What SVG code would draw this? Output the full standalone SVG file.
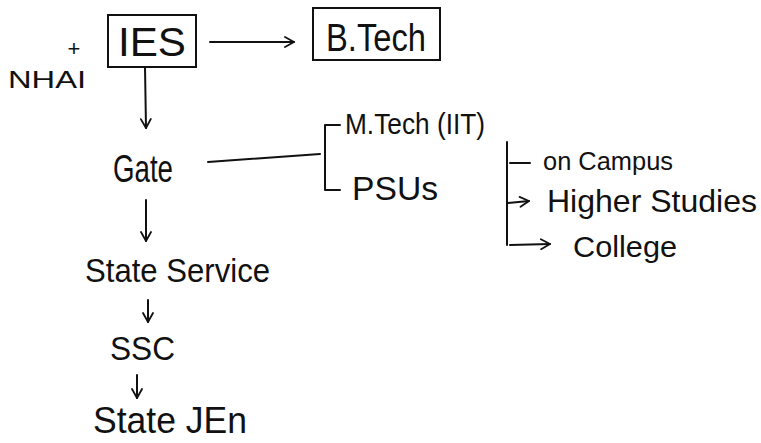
<svg xmlns="http://www.w3.org/2000/svg" width="761" height="443" viewBox="0 0 761 443">
<defs>
<marker id="ah" viewBox="0 0 12 12" refX="11" refY="6" markerWidth="12" markerHeight="12" markerUnits="userSpaceOnUse" orient="auto">
<path d="M2,1 L11,6 L2,11" fill="none" stroke="#111" stroke-width="1.8" stroke-linecap="round" stroke-linejoin="round"/>
</marker>
</defs>
<style>
text{font-family:"Liberation Sans","DejaVu Sans",sans-serif;fill:#111;}
.ln{fill:none;stroke:#111;stroke-width:2;stroke-linecap:round;stroke-linejoin:round;}
.box{fill:none;stroke:#111;stroke-width:2;}
</style>
<rect width="761" height="443" fill="#fff"/>
<g id="connectors">
<path class="ln" d="M210,42 L294,42" marker-end="url(#ah)"/>
<path class="ln" d="M145,67 L146,128" marker-end="url(#ah)"/>
<path class="ln" d="M208,162 L320,154"/>
<path class="ln" d="M340,125 L325,125 L325,190 L340,190"/>
<path class="ln" d="M146,200 L146,241" marker-end="url(#ah)"/>
<path class="ln" d="M148,300 L148,322" marker-end="url(#ah)"/>
<path class="ln" d="M137,375 L137,398" marker-end="url(#ah)"/>
<path class="ln" d="M507,142 L507,245"/>
<path class="ln" d="M510,163 L530,163"/>
<path class="ln" d="M508,203 L529,201" marker-end="url(#ah)"/>
<path class="ln" d="M510,245 L550,244" marker-end="url(#ah)"/>
</g>
<g id="ies">
<rect class="box" x="108" y="15" width="88" height="52"/>
<text x="152" y="56" font-size="40" text-anchor="middle" textLength="68" lengthAdjust="spacingAndGlyphs">IES</text>
</g>
<g id="btech">
<rect class="box" x="313" y="8" width="127" height="52"/>
<text x="376" y="51" font-size="38" text-anchor="middle" textLength="100" lengthAdjust="spacingAndGlyphs">B.Tech</text>
</g>
<g id="nhai">
<text x="74" y="56" font-size="22" text-anchor="middle">+</text>
<text x="8" y="88" font-size="24" textLength="78" lengthAdjust="spacingAndGlyphs">NHAI</text>
</g>
<g id="gate">
<text x="113" y="182" font-size="38" textLength="60" lengthAdjust="spacingAndGlyphs">Gate</text>
</g>
<g id="mtech">
<text x="345" y="134" font-size="29" textLength="140" lengthAdjust="spacingAndGlyphs">M.Tech (IIT)</text>
</g>
<g id="psus">
<text x="352" y="200" font-size="33" textLength="86" lengthAdjust="spacingAndGlyphs">PSUs</text>
</g>
<g id="oncampus">
<text x="543" y="170" font-size="25" textLength="130" lengthAdjust="spacingAndGlyphs">on Campus</text>
</g>
<g id="higher">
<text x="547" y="212" font-size="32" textLength="210" lengthAdjust="spacingAndGlyphs">Higher Studies</text>
</g>
<g id="college">
<text x="573" y="257" font-size="30" textLength="104" lengthAdjust="spacingAndGlyphs">College</text>
</g>
<g id="stateservice">
<text x="85" y="282" font-size="34" textLength="185" lengthAdjust="spacingAndGlyphs">State Service</text>
</g>
<g id="ssc">
<text x="110" y="360" font-size="33" textLength="65" lengthAdjust="spacingAndGlyphs">SSC</text>
</g>
<g id="statejen">
<text x="93" y="433" font-size="37" textLength="154" lengthAdjust="spacingAndGlyphs">State JEn</text>
</g>
</svg>
